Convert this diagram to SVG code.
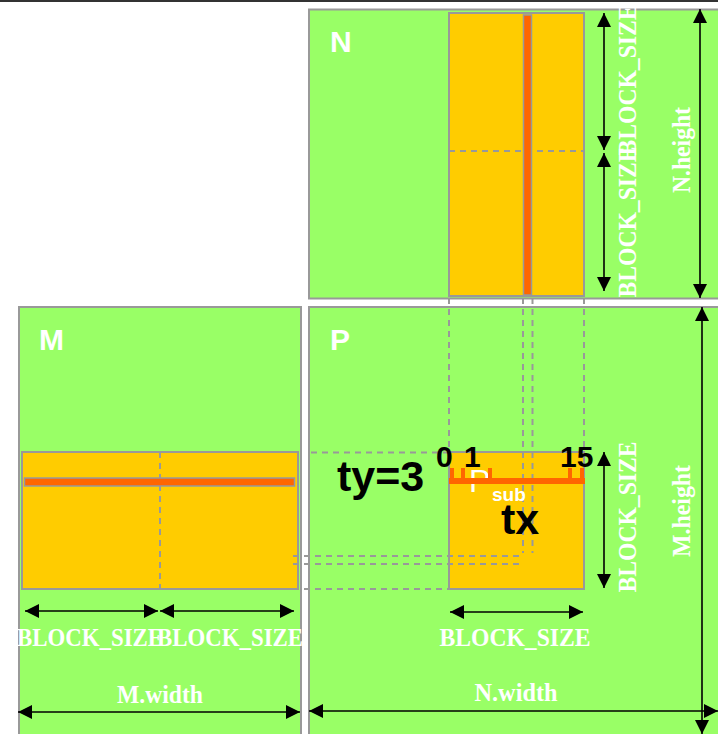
<svg xmlns="http://www.w3.org/2000/svg" width="718" height="734" viewBox="0 0 718 734">
<defs>
<style>
.mat{fill:#99FF66;stroke:#999999;stroke-width:2}
.blk{fill:#FFCC00;stroke:#999999;stroke-width:2}
.str{fill:#FF6600;stroke:#999999;stroke-width:1.5}
.dash{stroke:#999999;stroke-width:2;stroke-dasharray:6 5;fill:none}
.dim{stroke:#000;stroke-width:1.6;fill:none;marker-start:url(#ah);marker-end:url(#ah)}
.lbl{font-family:"Liberation Serif","Times New Roman",serif;font-weight:bold;font-size:25.5px;fill:#ffffff}
.name{font-family:"Liberation Sans",Arial,sans-serif;font-weight:bold;font-size:30px;fill:#ffffff}
.big{font-family:"Liberation Sans",Arial,sans-serif;font-weight:bold;fill:#000000}
</style>
<marker id="ah" viewBox="0 0 14 14" refX="14" refY="7" markerWidth="14" markerHeight="14" markerUnits="userSpaceOnUse" orient="auto-start-reverse">
<path d="M0,0 L14,7 L0,14 z" fill="#000"/>
</marker>
</defs>
<rect x="0" y="0" width="718" height="734" fill="#ffffff"/>

<g id="matrix-N">
<rect class="mat" x="309" y="9.5" width="420" height="289"/>
<rect class="blk" x="449" y="13" width="135" height="283"/>
<line class="dash" x1="449" y1="151" x2="584" y2="151"/>
<rect class="str" x="523.5" y="15" width="8" height="280"/>
<text class="name" x="330" y="52">N</text>
</g>

<g id="matrix-M">
<rect class="mat" x="19" y="307" width="282" height="440"/>
<rect class="blk" x="22" y="452" width="276" height="137"/>
<line class="dash" x1="160" y1="452" x2="160" y2="589"/>
<rect class="str" x="24.5" y="478" width="270" height="8"/>
<text class="name" x="39" y="350">M</text>
</g>

<g id="matrix-P">
<rect class="mat" x="309" y="307" width="420" height="440"/>
<rect class="blk" x="449" y="452" width="135" height="137"/>
<text class="name" x="330" y="350">P</text>
</g>

<g id="connectors">
<line class="dash" x1="449" y1="298" x2="449" y2="452"/>
<line class="dash" x1="584" y1="298" x2="584" y2="452"/>
<line class="dash" x1="523" y1="298" x2="523" y2="553"/>
<line class="dash" x1="532.5" y1="298" x2="532.5" y2="553"/>
<line class="dash" x1="311" y1="452.5" x2="449" y2="452.5"/>
<line class="dash" x1="293" y1="556" x2="520" y2="556"/>
<line class="dash" x1="293" y1="564" x2="520" y2="564"/>
<line class="dash" x1="293" y1="589" x2="449" y2="589"/>
<line class="dim" x1="604" y1="13" x2="604" y2="150"/>
<line class="dim" x1="604" y1="153" x2="604" y2="291"/>
<line class="dim" x1="700" y1="9" x2="700" y2="298"/>
<line class="dim" x1="604" y1="452" x2="604" y2="588"/>
<line class="dim" x1="702" y1="307" x2="702" y2="734"/>
<line class="dim" x1="25" y1="611" x2="158" y2="611"/>
<line class="dim" x1="160" y1="611" x2="294" y2="611"/>
<line class="dim" x1="450" y1="612" x2="583" y2="612"/>
<line class="dim" x1="18" y1="712" x2="300" y2="712"/>
<line class="dim" x1="309" y1="711" x2="718" y2="711"/>
</g>

<g id="thread-row">
<text x="469" y="492" font-family="Liberation Sans, Arial, sans-serif" font-size="32" fill="#ffffff">P</text>
<path d="M449,478 H585 V484 H449 Z M450,468 H454 V478 H450 Z M461,468 H465 V478 H461 Z M488,468 H492 V478 H488 Z M568,468 H572 V478 H568 Z M580,468 H584 V478 H580 Z" fill="#FF6600"/>
<text x="492" y="501" font-family="Liberation Sans, Arial, sans-serif" font-weight="bold" font-size="19" fill="#ffffff">sub</text>
<text class="big" x="436" y="467" font-size="30">0</text>
<text class="big" x="464" y="467" font-size="30">1</text>
<text class="big" x="560" y="467" font-size="30">15</text>
<text class="big" x="337" y="491" font-size="43">ty=3</text>
<text class="big" x="501" y="534" font-size="43">tx</text>
</g>

<g id="labels">
<text class="lbl" x="90" y="646" text-anchor="middle" textLength="146" lengthAdjust="spacingAndGlyphs">BLOCK_SIZE</text>
<text class="lbl" x="230" y="646" text-anchor="middle" textLength="146" lengthAdjust="spacingAndGlyphs">BLOCK_SIZE</text>
<text class="lbl" x="515" y="646" text-anchor="middle" textLength="151" lengthAdjust="spacingAndGlyphs">BLOCK_SIZE</text>
<text class="lbl" x="160" y="703" text-anchor="middle" textLength="86" lengthAdjust="spacingAndGlyphs">M.width</text>
<text class="lbl" x="516" y="701" text-anchor="middle" textLength="83" lengthAdjust="spacingAndGlyphs">N.width</text>
<text class="lbl" transform="translate(636,517) rotate(-90)" text-anchor="middle" textLength="151" lengthAdjust="spacingAndGlyphs">BLOCK_SIZE</text>
<text class="lbl" transform="translate(636,222) rotate(-90)" text-anchor="middle" textLength="151" lengthAdjust="spacingAndGlyphs">BLOCK_SIZE</text>
<text class="lbl" transform="translate(636,80) rotate(-90)" text-anchor="middle" textLength="151" lengthAdjust="spacingAndGlyphs">BLOCK_SIZE</text>
<text class="lbl" transform="translate(690,511) rotate(-90)" text-anchor="middle" textLength="92" lengthAdjust="spacingAndGlyphs">M.height</text>
<text class="lbl" transform="translate(690,150) rotate(-90)" text-anchor="middle" textLength="86" lengthAdjust="spacingAndGlyphs">N.height</text>
</g>
<rect x="0" y="0" width="718" height="2" fill="#333333"/>
</svg>
